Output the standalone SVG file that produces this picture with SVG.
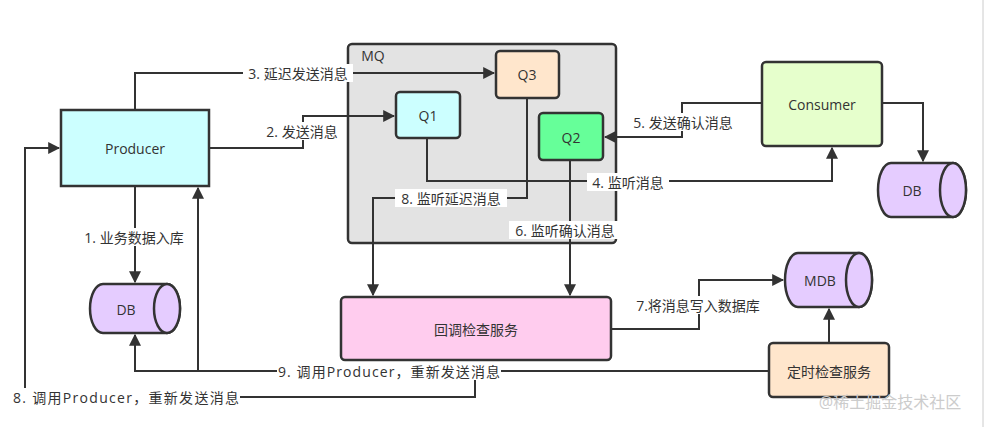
<svg xmlns="http://www.w3.org/2000/svg" width="985" height="427" viewBox="0 0 985 427">
<style>
text{font-family:"Open Sans","Noto Sans CJK SC",sans-serif;font-size:14px;fill:#333;text-anchor:middle;dominant-baseline:central}
.n{stroke:#333;stroke-width:2.5}
.c{fill:none;stroke:#333;stroke-width:2;marker-end:url(#a)}
.bg{fill:#fff}
</style>
<defs><marker id="a" viewBox="0 0 10 10" refX="9" refY="5" markerWidth="12" markerHeight="12" orient="auto" markerUnits="userSpaceOnUse"><path d="M0,0L10,5L0,10z" fill="#333"/></marker></defs>
<rect width="985" height="427" fill="#fff"/>
<line x1="983" y1="0" x2="983" y2="427" stroke="#ccc"/>
<g id="mq"><rect class="n" x="348" y="44" width="268" height="199" rx="4" fill="#e3e3e3"/><text x="373" y="55">MQ</text></g>
<g id="producer"><rect class="n" x="61" y="110" width="148" height="76" fill="#ccffff"/><text x="135" y="148">Producer</text></g>
<g id="q1"><rect class="n" x="396" y="92" width="64" height="46" rx="4" fill="#ccffff"/><text x="428" y="115">Q1</text></g>
<g id="q3"><rect class="n" x="496" y="51" width="63" height="47" rx="4" fill="#ffe6cc"/><text x="527" y="74">Q3</text></g>
<g id="q2"><rect class="n" x="539" y="113" width="64" height="47" rx="4" fill="#66ff99"/><text x="571" y="137">Q2</text></g>
<g id="consumer"><rect class="n" x="762" y="62" width="120" height="84" rx="4" fill="#e6ffcc"/><text x="822" y="104">Consumer</text></g>
<g id="db2"><path class="n" fill="#e5ccff" d="M891,163H953A13,27 0 0 1 953,217H891A13,27 0 0 1 891,163Z"/><ellipse class="n" cx="953" cy="190" rx="13" ry="27" fill="#e5ccff"/><text x="912" y="190">DB</text></g>
<g id="db1"><path class="n" fill="#e5ccff" d="M103,284H167A13,24.5 0 0 1 167,333H103A13,24.5 0 0 1 103,284Z"/><ellipse class="n" cx="167" cy="308.5" rx="13" ry="24.5" fill="#e5ccff"/><text x="126" y="309">DB</text></g>
<g id="mdb"><path class="n" fill="#e5ccff" d="M798,253H859A13,27 0 0 1 859,307H798A13,27 0 0 1 798,253Z"/><ellipse class="n" cx="859" cy="280" rx="13" ry="27" fill="#e5ccff"/><text x="820" y="280">MDB</text></g>
<g id="callback"><rect class="n" x="341" y="297" width="270" height="63" rx="4" fill="#ffccee"/><text x="476" y="329">回调检查服务</text></g>
<g id="timer"><rect class="n" x="769" y="343" width="120" height="54" rx="4" fill="#ffe6cc"/><text x="829" y="371">定时检查服务</text></g>
<g id="connectors">
<path class="c" d="M135,110V73H494"/>
<path class="c" d="M209,148H303V116H394"/>
<path class="c" d="M135,186V282"/>
<path class="c" d="M427,138V181H832V148"/>
<path class="c" d="M527,98V198H373V295"/>
<path class="c" d="M762,103H682V137H605"/>
<path class="c" d="M570,160V295"/>
<path class="c" d="M882,103H923V161"/>
<path class="c" d="M611,329H699V280H783"/>
<path class="c" d="M829,343V309"/>
<path class="c" d="M769,371H135V335"/>
<path class="c" d="M198,371V188"/>
<path class="c" d="M475,371V397H25V148H59"/>
<rect class="bg" x="243" y="64" width="110" height="18"/><text x="298" y="73">3. 延迟发送消息</text>
<rect class="bg" x="261" y="122" width="82" height="18"/><text x="302" y="131">2. 发送消息</text>
<rect class="bg" x="78" y="228" width="112" height="18"/><text x="134" y="237">1. 业务数据入库</text>
<rect class="bg" x="587" y="173" width="82" height="18"/><text x="628" y="182">4. 监听消息</text>
<rect class="bg" x="395" y="189" width="112" height="18"/><text x="451" y="198">8. 监听延迟消息</text>
<rect class="bg" x="627" y="113" width="112" height="18"/><text x="683" y="122">5. 发送确认消息</text>
<rect class="bg" x="509" y="221" width="112" height="18"/><text x="565" y="230">6. 监听确认消息</text>
<rect class="bg" x="629" y="296" width="138" height="18"/><text x="698" y="305">7.将消息写入数据库</text>
<rect class="bg" x="277" y="362" width="224" height="18"/><text x="389" y="371" textLength="222" lengthAdjust="spacing">9. 调用Producer，重新发送消息</text>
<rect class="bg" x="12" y="388" width="228" height="18"/><text x="126" y="397" textLength="226" lengthAdjust="spacing">8. 调用Producer，重新发送消息</text>
</g>
<text x="890" y="402" style="fill:#ccc;font-size:16px">@稀土掘金技术社区</text>
</svg>
